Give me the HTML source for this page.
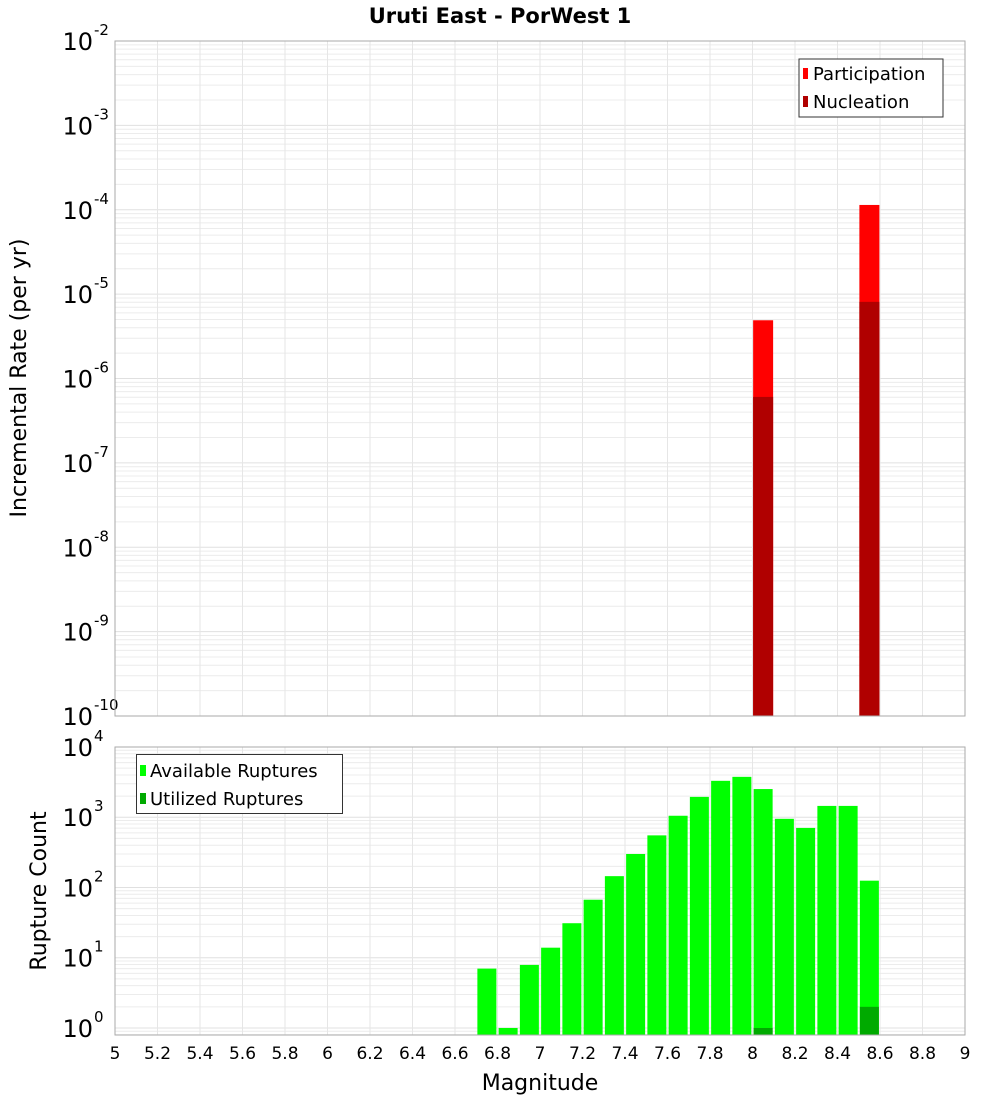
<!DOCTYPE html>
<html><head><meta charset="utf-8"><style>
body{margin:0;background:#fff;}
svg text{font-family:"DejaVu Sans","Liberation Sans",sans-serif;}
</style></head><body>
<svg id="chart" width="1000" height="1100" xmlns="http://www.w3.org/2000/svg">
<rect width="1000" height="1100" fill="#fff"/>
<text x="500" y="23" font-size="21" font-weight="bold" text-anchor="middle">Uruti East - PorWest 1</text>
<g id="topPanel"></g>
<g id="botPanel"></g>
<text transform="translate(26,378) rotate(-90)" font-size="22" text-anchor="middle">Incremental Rate (per yr)</text>
<text transform="translate(46,891) rotate(-90)" font-size="22" text-anchor="middle">Rupture Count</text>
<text x="540" y="1090" font-size="22" text-anchor="middle">Magnitude</text>
<g>
<rect x="799" y="59" width="144" height="58" fill="#fff" stroke="#333" stroke-width="1"/>
<rect x="803" y="68" width="5" height="11" fill="#ff0000"/>
<text x="813" y="80" font-size="18">Participation</text>
<rect x="803" y="96" width="5" height="11" fill="#b00000"/>
<text x="813" y="108" font-size="18">Nucleation</text>
</g>
<g>
<rect x="136.5" y="754.5" width="206" height="59" fill="#fff" stroke="#333" stroke-width="1"/>
<rect x="140" y="765" width="6" height="11" fill="#00ff00"/>
<text x="150" y="777" font-size="18">Available Ruptures</text>
<rect x="140" y="793" width="6" height="11" fill="#00aa00"/>
<text x="150" y="805" font-size="18">Utilized Ruptures</text>
</g>
</svg>
<script>
const partMags=[8.05,8.55];
const partVals=[4.9e-6,1.14e-4];
const nuclMags=[8.05,8.55];
const nuclVals=[6.05e-7,8.1e-6];
const availMags=[6.75,6.85,6.95,7.05,7.15,7.25,7.35,7.45,7.55,7.65,7.75,7.85,7.95,8.05,8.15,8.25,8.35,8.45,8.55];
const availVals=[7,1,7.9,13.9,31,67,145,300,552,1050,1950,3300,3760,2520,950,705,1450,1450,125];
const usedMags=[8.05,8.55];
const usedVals=[1,2];
const xTicks=[5,5.2,5.4,5.6,5.8,6,6.2,6.4,6.6,6.8,7,7.2,7.4,7.6,7.8,8,8.2,8.4,8.6,8.8,9];
const topDecades=[-2,-3,-4,-5,-6,-7,-8,-9,-10];
const botDecades=[0,1,2,3,4];

const NS='http://www.w3.org/2000/svg';
const X0=115,X1=965;
const xs=m=>X0+(m-5)/4*(X1-X0);
function mk(p,tag,at){const e=document.createElementNS(NS,tag);for(const k in at)e.setAttribute(k,at[k]);p.appendChild(e);return e;}
function panel(g,ptop,pbot,lmin,lmax,decs,name){
  const ys=v=>pbot-(Math.log10(v)-lmin)/(lmax-lmin)*(pbot-ptop);
  const grid=mk(g,'g',{});
  
  
  for(let d=Math.floor(lmin);d<lmax;d++){for(let k=1;k<10;k++){const v=k*Math.pow(10,d);const lv=Math.log10(v);if(lv<lmin||lv>lmax)continue;const y=ys(v);mk(grid,'line',{x1:X0,x2:X1,y1:y,y2:y,stroke:k==1?'#e0e0e0':'#ececec','stroke-width':1});}}
  xTicks.forEach(t=>{const x=xs(t);mk(grid,'line',{x1:x,x2:x,y1:ptop,y2:pbot,stroke:'#e6e6e6','stroke-width':1});});
  decs.forEach(d=>{const y=ys(Math.pow(10,d));const t=mk(g,'text',{x:93,y:y+9,'font-size':24,'text-anchor':'end'});t.textContent='10';
    
    
    const s=mk(g,'text',{x:94,y:y-6,'font-size':15,'text-anchor':'start'});s.textContent=String(d);});
  return ys;
}
const topG=document.getElementById('topPanel'),botG=document.getElementById('botPanel');
const ysT=panel(topG,41,716,-10,-2,topDecades,'top');
const ysB=panel(botG,747,1035,-0.1,4.0,botDecades,'bottom');
function bars(g,mags,vals,ys,base,color,name,w){
  mags.forEach((m,i)=>{const y=ys(vals[i]);const r=mk(g,'rect',{x:xs(m)-w/2,y:y,width:w,height:base-y,fill:color});
    
    });
}
bars(topG,partMags,partVals,ysT,716,'#ff0000','participation-bar',20);
bars(topG,nuclMags,nuclVals,ysT,716,'#b00000','nucleation-bar',20);
bars(botG,availMags,availVals,ysB,1035,'#00ff00','available-bar',19);
bars(botG,usedMags,usedVals,ysB,1035,'#00aa00','utilized-bar',19);
mk(topG,'rect',{x:X0,y:41,width:X1-X0,height:675,fill:'none',stroke:'#aaa','stroke-width':1});
mk(botG,'rect',{x:X0,y:747,width:X1-X0,height:288,fill:'none',stroke:'#aaa','stroke-width':1});
xTicks.forEach(t=>{const e=mk(botG,'text',{x:xs(t),y:1059,'font-size':17,'text-anchor':'middle'});e.textContent=String(t);
  
  });
</script>
</body></html>
